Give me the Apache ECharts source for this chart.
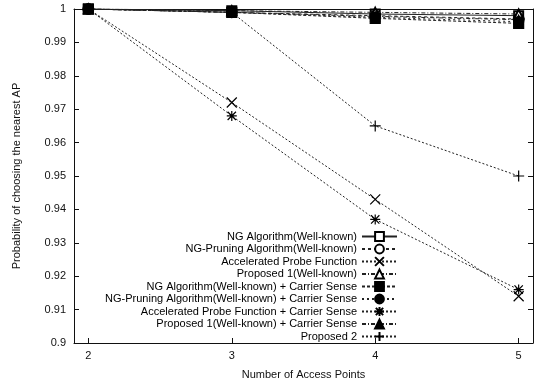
<!DOCTYPE html>
<html>
<head>
<meta charset="UTF-8">
<title>Probability of choosing the nearest AP</title>
<script src="https://cdn.jsdelivr.net/npm/echarts@6/dist/echarts.min.js"></script>
<style>
  html, body { margin: 0; padding: 0; background: #fff; }
  #chart { width: 537px; height: 385px; }
</style>
</head>
<body>
<div id="chart"></div>
<script>
// number of access points
var apCounts = [2, 3, 4, 5];

// probability values
var ngAlgo       = [1, 0.9995, 0.9985, 0.998];
var ngPruning    = [1, 0.999, 0.998, 0.997];
var accelProbe   = [1, 0.972, 0.943, 0.914];
var proposed1    = [1, 0.9995, 0.999, 0.9985];
var ngAlgoCS     = [1, 0.999, 0.9972, 0.9957];
var ngPruningCS  = [1, 0.999, 0.9975, 0.9962];
var accelProbeCS = [1, 0.968, 0.937, 0.916];
var proposed1CS  = [1, 0.999, 0.9978, 0.9968];
var proposed2    = [1, 0.999, 0.965, 0.950];

var seriesNames = [
  'NG Algorithm(Well-known)',
  'NG-Pruning Algorithm(Well-known)',
  'Accelerated Probe Function',
  'Proposed 1(Well-known)',
  'NG Algorithm(Well-known) + Carrier Sense',
  'NG-Pruning Algorithm(Well-known) + Carrier Sense',
  'Accelerated Probe Function + Carrier Sense',
  'Proposed 1(Well-known) + Carrier Sense',
  'Proposed 2'
];
var seriesValues = [ngAlgo, ngPruning, accelProbe, proposed1, ngAlgoCS,
                    ngPruningCS, accelProbeCS, proposed1CS, proposed2];

var CROSS = 'path://M0,0L10,10M10,0L0,10';
var STAR = 'path://M0,0L10,10M10,0L0,10M5,-1L5,11M-1,5L11,5';
var PLUS = 'path://M5,0L5,10M0,5L10,5';

var symbols = ['emptyRect', 'emptyCircle', CROSS, 'emptyTriangle', 'rect',
               'circle', STAR, 'triangle', PLUS];
var symbolSizes = [9, 10, 10, 9, 10, 10, 10, 9, 11];
var dashes = ['solid', [3, 3], [2, 2], [4, 2, 1, 2], [3, 2],
              [2, 3], [2, 2], [4, 2, 1, 2], [2, 2]];
// draw order: filled square on top, like the reference
var zOrder = [2, 3, 4, 5, 10, 6, 7, 8, 9];

var font = '"Liberation Sans", Arial, sans-serif';

var chart = echarts.init(document.getElementById('chart'));

var series = seriesValues.map(function (vals, i) {
  return {
    name: seriesNames[i],
    type: 'line',
    data: apCounts.map(function (x, j) { return [x, vals[j]]; }),
    symbol: symbols[i],
    symbolSize: symbolSizes[i],
    showAllSymbol: true,
    color: '#000',
    lineStyle: { color: '#222', width: 1, type: dashes[i] },
    itemStyle: { color: '#000', borderColor: '#000', borderWidth: 1.2 },
    z: zOrder[i]
  };
});

chart.setOption({
  animation: false,
  backgroundColor: '#fff',
  textStyle: { fontFamily: font, color: '#111' },
  grid: { left: 74, right: 4, top: 9, bottom: 38 },
  legend: {
    orient: 'vertical',
    align: 'right',
    right: 139,
    top: 231,
    padding: 0,
    itemWidth: 35,
    itemHeight: 11,
    itemGap: 1.5,
    textStyle: { fontFamily: font, fontSize: 11, color: '#000' },
    data: seriesNames
  },
  xAxis: [{
    type: 'value',
    min: 1.9,
    max: 5.1,
    name: 'Number of Access Points',
    nameLocation: 'middle',
    nameGap: 26,
    nameTextStyle: { fontFamily: font, fontSize: 11, color: '#111' },
    axisLine: { lineStyle: { color: '#111', width: 1 } },
    axisTick: { inside: true, length: 5, customValues: apCounts, lineStyle: { color: '#111' } },
    axisLabel: { customValues: apCounts, fontSize: 11, color: '#111', margin: 7 },
    splitLine: { show: false }
  }, {
    type: 'value',
    position: 'top',
    min: 1.9,
    max: 5.1,
    axisLine: { show: true, lineStyle: { color: '#111', width: 1 } },
    axisTick: { inside: true, length: 5, customValues: apCounts, lineStyle: { color: '#111' } },
    axisLabel: { show: false },
    splitLine: { show: false }
  }],
  yAxis: [{
    type: 'value',
    min: 0.9,
    max: 1,
    interval: 0.01,
    name: 'Probability of choosing the nearest AP',
    nameLocation: 'middle',
    nameGap: 52,
    nameTextStyle: { fontFamily: font, fontSize: 11, color: '#111' },
    axisLine: { show: true, lineStyle: { color: '#111', width: 1 } },
    axisTick: { inside: true, length: 5, lineStyle: { color: '#111' } },
    axisLabel: {
      fontSize: 11,
      color: '#111',
      margin: 8,
      formatter: function (v) { return String(+v.toFixed(2)); }
    },
    splitLine: { show: false }
  }, {
    type: 'value',
    position: 'right',
    min: 0.9,
    max: 1,
    interval: 0.01,
    axisLine: { show: true, lineStyle: { color: '#111', width: 1 } },
    axisTick: { inside: true, length: 5, lineStyle: { color: '#111' } },
    axisLabel: { show: false },
    splitLine: { show: false }
  }],
  series: series
});
</script>
</body>
</html>
